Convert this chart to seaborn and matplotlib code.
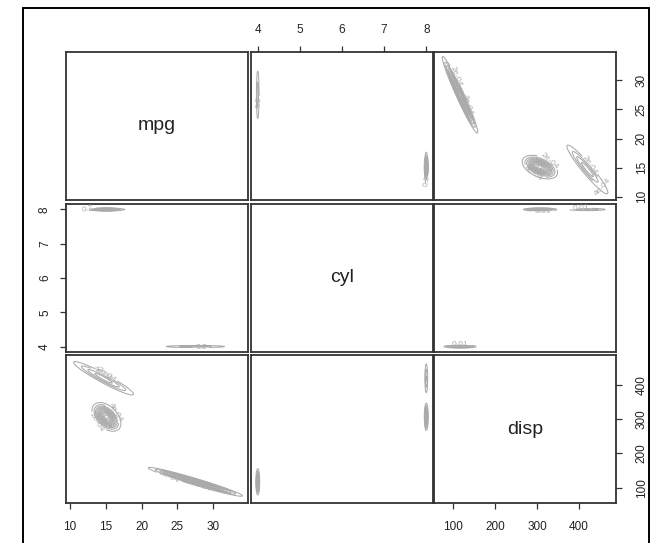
import numpy as np
import pandas as pd
import matplotlib
matplotlib.use("Agg")
import matplotlib.pyplot as plt
from matplotlib.lines import Line2D
import seaborn as sns

# Variables of the scatterplot-matrix and their axis ranges / ticks
variables = ["mpg", "cyl", "disp"]
axis_limits = {"mpg": (9.46, 34.84), "cyl": (3.84, 8.16), "disp": (55.06, 488.04)}
axis_ticks = {"mpg": [10, 15, 20, 25, 30],
              "cyl": [4, 5, 6, 7, 8],
              "disp": [100, 200, 300, 400]}

# Gaussian mixture components (one entry per component)
component_weight = [0.214, 0.236, 0.12]
mean_mpg = [27.5, 15.1, 14.7]
mean_cyl = [4.0, 8.0, 8.0]
mean_disp = [117.0, 307.0, 420.0]
sd_mpg = [2.9, 0.9, 2.4]
sd_cyl = [0.022, 0.022, 0.022]
sd_disp = [18.6, 18.7, 28.0]
corr_mpg_disp = [-0.97, -0.45, -0.95]

means = {"mpg": mean_mpg, "cyl": mean_cyl, "disp": mean_disp}
sds = {"mpg": sd_mpg, "cyl": sd_cyl, "disp": sd_disp}
components = pd.DataFrame(means)

CONTOUR_GREY = "#aaaaaa"
FRAME = "#333333"


def r_number(v):
    if v < 1e-3:
        return f"{v:.0e}"
    return f"{v:g}"


def pretty_levels(lo, hi, n=10):
    """Round contour levels in the style of R's pretty()."""
    cell = (hi - lo) / n
    U = 10 ** np.floor(np.log10(cell))
    unit = U
    h, h5 = 1.5, 0.5 + 1.5 * 1.5
    if 2 * U - cell < h * (cell - unit):
        unit = 2 * U
        if 5 * U - cell < h5 * (cell - unit):
            unit = 5 * U
            if 10 * U - cell < h * (cell - unit):
                unit = 10 * U
    ns = np.floor(lo / unit + 1e-7)
    nu = np.ceil(hi / unit - 1e-7)
    lv = np.arange(ns, nu + 1) * unit
    return lv[(lv > lo) & (lv < hi)]


def pair_corr(a, b, k):
    if {a, b} == {"mpg", "disp"}:
        return corr_mpg_disp[k]
    return 0.0


def mixture_contour(x, y, **kws):
    ax = plt.gca()
    xv, yv = x.name, y.name
    gx = np.linspace(*axis_limits[xv], 800)
    gy = np.linspace(*axis_limits[yv], 800)
    X, Y = np.meshgrid(gx, gy)
    Z = np.zeros_like(X)
    for k, w in enumerate(component_weight):
        mx, my = means[xv][k], means[yv][k]
        sx, sy = sds[xv][k], sds[yv][k]
        r = pair_corr(xv, yv, k)
        zx = (X - mx) / sx
        zy = (Y - my) / sy
        q = (zx ** 2 - 2 * r * zx * zy + zy ** 2) / (1 - r ** 2)
        Z += w / (2 * np.pi * sx * sy * np.sqrt(1 - r ** 2)) * np.exp(-q / 2)
    levels = pretty_levels(Z.min(), Z.max())
    cs = ax.contour(X, Y, Z, levels=levels, colors=CONTOUR_GREY, linewidths=0.75)
    # the vertical strips of the cyl-vs-disp panel carry no labels
    if not (xv == "cyl" and yv == "disp"):
        n_lab = 2 if "cyl" not in (xv, yv) else 1
        ax.clabel(cs, levels=levels[:n_lab], fmt=r_number, fontsize=6,
                  inline=True, inline_spacing=1, colors=CONTOUR_GREY)


sns.set_style("white")
plt.rcParams["font.family"] = ["Liberation Sans", "DejaVu Sans"]

g = sns.PairGrid(components, vars=variables, despine=False, height=2)
g.map_offdiag(mixture_contour)

fig = g.figure
fig.set_size_inches(6.51, 5.43)
fig.set_dpi(100)
W, H = 651.0, 543.0

col_left = [66, 251, 434]
row_top = [52, 204, 355]
panel_w, panel_h = 182, 148

for i, yv in enumerate(variables):
    for j, xv in enumerate(variables):
        ax = g.axes[i, j]
        ax.set_position([col_left[j] / W, 1 - (row_top[i] + panel_h) / H,
                         panel_w / W, panel_h / H])
        ax.set_xlim(*axis_limits[xv])
        ax.set_ylim(*axis_limits[yv])
        ax.set_xticks(axis_ticks[xv])
        ax.set_yticks(axis_ticks[yv])
        ax.set_xlabel("")
        ax.set_ylabel("")
        for sp in ax.spines.values():
            sp.set_visible(True)
            sp.set_color(FRAME)
            sp.set_linewidth(1.3)

        show_bottom = (i == 2 and j % 2 == 0)
        show_top = (i == 0 and j % 2 == 1)
        show_left = (j == 0 and i % 2 == 1)
        show_right = (j == 2 and i % 2 == 0)
        ax.tick_params(axis="x", bottom=show_bottom, top=show_top,
                       labelbottom=show_bottom, labeltop=show_top,
                       length=4.3, width=0.9, color=FRAME,
                       labelsize=8.5, labelcolor="#222222",
                       pad=8.7 if show_bottom else 7.3)
        ax.tick_params(axis="y", left=show_left, right=show_right,
                       labelleft=show_left, labelright=show_right,
                       length=4.3, width=0.9, color=FRAME,
                       labelsize=8.5, labelcolor="#222222",
                       labelrotation=90,
                       pad=9.9 if show_right else 6.5)
        for lab in ax.get_yticklabels():
            lab.set_verticalalignment("center")

        if i == j:
            ax.text(0.5, 0.5, xv, transform=ax.transAxes, ha="center",
                    va="center", fontsize=14, color="#222222")

# Outer frame around the figure area
fx0, fx1 = 22.5 / W, 648.5 / W
fy0 = 1 - 7.5 / H
for xs, ys in [([fx0, fx0], [fy0, -0.05]),
               ([fx0, fx1], [fy0, fy0]),
               ([fx1, fx1], [fy0, -0.05])]:
    fig.add_artist(Line2D(xs, ys, transform=fig.transFigure, color="black",
                          linewidth=1.4, clip_on=False))

fig.savefig("out.png", dpi=100)
